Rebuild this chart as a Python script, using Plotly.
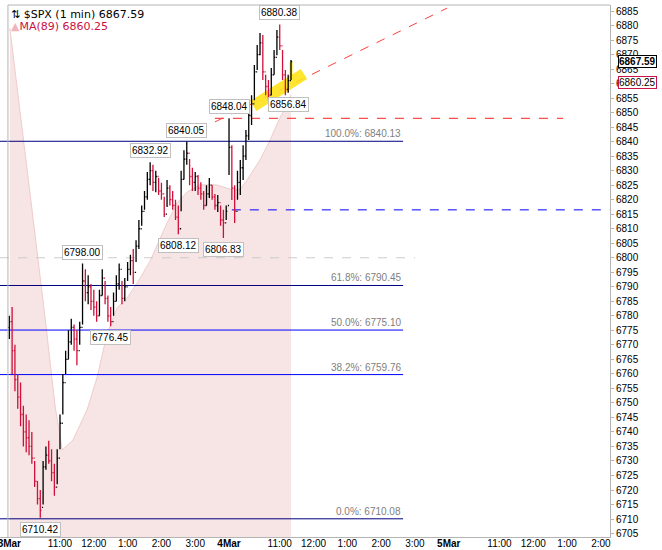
import plotly.graph_objects as go
import pandas as pd

SESSION = 6.5  # trading hours per day, x axis = session hours since 3Mar 09:30


def session_hours(day, hhmm):
    h, m = map(int, hhmm.split(':'))
    return day * SESSION + h + m / 60 - 9.5


# 5-minute OHLC bars, 3Mar full session then 4Mar 09:30-11:20
bar_days = [0] * 78 + [1] * 23
bar_clock = [t.strftime('%H:%M') for t in pd.date_range('2000-01-01 09:30', periods=78, freq='5min')] + \
            [t.strftime('%H:%M') for t in pd.date_range('2000-01-01 09:30', periods=23, freq='5min')]

opens = [6776, 6778, 6768, 6758, 6752, 6746, 6740, 6738, 6735, 6731,
         6723, 6717, 6714, 6728, 6732, 6730, 6726, 6721, 6731, 6743,
         6757, 6765, 6771, 6776, 6772, 6768, 6776, 6792, 6788, 6790,
         6785, 6783, 6780, 6787, 6793, 6786, 6780, 6778, 6785, 6791,
         6796, 6786, 6790, 6796, 6799, 6795, 6804, 6810, 6816, 6821,
         6827, 6830, 6826, 6828, 6823, 6822, 6815, 6824, 6820, 6818,
         6814, 6810, 6827, 6834, 6836, 6828, 6826, 6828, 6824, 6822,
         6818, 6822, 6825, 6821, 6818, 6819, 6813, 6812,
         6818, 6838, 6824, 6816, 6826, 6831, 6835, 6842, 6849, 6853,
         6864, 6870, 6874, 6864, 6859, 6856, 6863, 6869, 6876, 6873,
         6863, 6858, 6861]
highs = [6780, 6783, 6770, 6760, 6757, 6749, 6746, 6744, 6740, 6730,
         6723, 6720, 6730, 6735, 6737, 6734, 6729, 6734, 6746, 6760,
         6768, 6775, 6779, 6777, 6775, 6778, 6798.00, 6796, 6794, 6791,
         6789, 6785, 6789, 6796, 6792, 6787, 6783, 6788, 6794, 6798,
         6792, 6793, 6798.5, 6801, 6803, 6806, 6813, 6818, 6823, 6829.5,
         6832.92, 6832, 6830, 6827.5, 6825.8, 6821, 6826.8, 6825, 6823, 6820,
         6818, 6830, 6837, 6840.05, 6834, 6831, 6829.5, 6828.5, 6826, 6823,
         6825, 6827.5, 6825, 6822, 6821.6, 6818, 6816.5, 6818,
         6848.04, 6838.8, 6825, 6830, 6833.7, 6838.8, 6844, 6851, 6856, 6866.4,
         6873.3, 6877.4, 6876.7, 6863, 6861.2, 6865.4, 6871.6, 6878.5, 6880.38, 6871.6,
         6864.7, 6863, 6868.1]
lows = [6772, 6760, 6754, 6748, 6742, 6735, 6733, 6732, 6729, 6721,
        6715, 6710.42, 6715, 6727, 6729, 6723, 6718, 6722, 6734, 6746,
        6760, 6765, 6770, 6768, 6763, 6770, 6777, 6785, 6784, 6782,
        6780, 6778, 6780, 6787, 6784, 6778, 6776.45, 6780, 6785, 6789,
        6784, 6785, 6792, 6794, 6791, 6798.5, 6803, 6811, 6816.5, 6820,
        6825, 6823, 6822.6, 6821.6, 6820, 6814, 6817.5, 6818, 6816.5, 6813,
        6808.12, 6816, 6827, 6832, 6825, 6823, 6823, 6821.6, 6820, 6816.5,
        6818, 6820.6, 6820, 6816.5, 6815.8, 6811, 6806.83, 6813,
        6828.5, 6819.9, 6812, 6820, 6821.6, 6826.8, 6833.7, 6840.6, 6845.7, 6854.3,
        6864.7, 6869.8, 6861.2, 6856, 6854.3, 6856, 6863, 6869.8, 6871.6, 6861.2,
        6856, 6856.84, 6861.2]
closes = [6778, 6768, 6758, 6752, 6746, 6740, 6738, 6735, 6731, 6723,
          6717, 6713, 6728, 6732, 6730, 6726, 6721, 6731, 6743, 6757,
          6765, 6771, 6776, 6772, 6768, 6776, 6792, 6788, 6790, 6785,
          6783, 6780, 6787, 6793, 6786, 6780, 6778, 6785, 6791, 6796,
          6786, 6790, 6796, 6799, 6795, 6804, 6810, 6816, 6821, 6827,
          6830, 6826, 6828, 6823, 6822, 6815, 6824, 6820, 6818, 6814,
          6810, 6827, 6834, 6836, 6828, 6826, 6828, 6824, 6822, 6818,
          6822, 6825, 6821, 6818, 6819, 6813, 6812, 6816,
          6838, 6824, 6816, 6826, 6831, 6835, 6842, 6849, 6853, 6864,
          6870, 6874, 6864, 6859, 6856, 6863, 6869, 6876, 6873, 6863,
          6858, 6861, 6867.59]

# MA(89)
ma_days = [0] * 21 + [1] * 8
ma_clock = ['09:31', '09:49', '10:07', '10:19', '10:34', '10:51', '11:04', '11:23', '11:48',
            '12:06', '12:23', '12:41', '12:59', '13:17', '13:40', '14:10', '14:28', '14:46',
            '15:08', '15:38', '15:56',
            '09:37', '09:50', '10:02', '10:25', '10:43', '11:01', '11:15', '11:20']
ma_values = [6879.1, 6850.9, 6823.3, 6802.7, 6778.6, 6749.3, 6733.8, 6737.2, 6747.6,
             6758.9, 6773.4, 6782.7, 6786.1, 6791.3, 6798.9, 6812.0, 6818.9, 6822.7,
             6825.1, 6825.1, 6824.0,
             6823.3, 6823.7, 6826.8, 6833.7, 6840.6, 6848.5, 6853.3, 6856.1]

# Fibonacci retracement
fib_pct = ['100.0%', '61.8%', '50.0%', '38.2%', '0.0%']
fib_levels = [6840.13, 6790.45, 6775.10, 6759.76, 6710.08]
fib_colors = ['#000080', '#000080', '#0000ff', '#0000ff', '#000080']

# marked highs / lows (bar index)
high_marks = [26, 50, 63, 78, 96]
low_marks = [11, 36, 60, 76, 99]

last_price = 6867.59
last_ma = 6860.25

x_time = [session_hours(d, c) for d, c in zip(bar_days, bar_clock)]
ma_x = [session_hours(d, c) for d, c in zip(ma_days, ma_clock)]

x_left, x_right = -0.275, 17.77
y_low, y_high = 6703.81, 6887.07
fib_end = session_hours(1, '14:39')

fig = go.Figure()

fig.add_trace(go.Scatter(x=ma_x, y=ma_values, mode='lines', fill='tozeroy',
                         fillcolor='#f7e4e4', line=dict(color='#f0cccc', width=1),
                         hoverinfo='skip'))

for lvl, col in zip(fib_levels, fib_colors):
    fig.add_trace(go.Scatter(x=[x_left, fib_end], y=[lvl, lvl], mode='lines',
                             line=dict(color=col, width=1), hoverinfo='skip'))

# horizontal markers and trendline
fig.add_trace(go.Scatter(x=[x_left, session_hours(1, '15:00')], y=[6800, 6800], mode='lines',
                         line=dict(color='#cccccc', width=1, dash='dash'), hoverinfo='skip'))
fig.add_trace(go.Scatter(x=[session_hours(0, '15:35'), session_hours(2, '12:53')], y=[6848.04, 6848.04],
                         mode='lines', line=dict(color='#ff2020', width=1, dash='dash'), hoverinfo='skip'))
fig.add_trace(go.Scatter(x=[session_hours(1, '09:35'), x_right], y=[6816.5, 6816.5], mode='lines',
                         line=dict(color='#0000ff', width=1, dash='dash'), hoverinfo='skip'))
fig.add_trace(go.Scatter(x=[session_hours(0, '15:35'), session_hours(1, '15:57')], y=[6846.8, 6886.0],
                         mode='lines', line=dict(color='#ff4040', width=1, dash='dash'), hoverinfo='skip'))
fig.add_trace(go.Scatter(x=[session_hours(1, '10:13'), session_hours(1, '11:43')], y=[6852.3, 6863.3],
                         mode='lines', line=dict(color='#ffe31a', width=12), opacity=0.9, hoverinfo='skip'))
fig.add_trace(go.Scatter(x=[session_hours(1, '11:20'), session_hours(1, '11:20')], y=[6862.0, 6867.5],
                         mode='lines', line=dict(color='#ffe31a', width=3), hoverinfo='skip'))

fig.add_trace(go.Ohlc(x=x_time, open=opens, high=highs, low=lows, close=closes, yaxis='y2',
                      increasing=dict(line=dict(color='#000000', width=1.3)),
                      decreasing=dict(line=dict(color='#d0103a', width=1.3)),
                      tickwidth=0.4, hoverinfo='skip'))

tick_x, tick_t = [], []
for d, name in enumerate(['3Mar', '4Mar', '5Mar']):
    tick_x.append(d * SESSION)
    tick_t.append('<b>' + name + '</b>')
    for hh, lab in [('11:00', '11:00'), ('12:00', '12:00'), ('13:00', '1:00'), ('14:00', '2:00'), ('15:00', '3:00')]:
        tick_x.append(session_hours(d, hh))
        tick_t.append(lab)

font = 'Liberation Sans, Arial, sans-serif'
ann = []
for i in high_marks:
    ann.append(dict(x=x_time[i], y=highs[i], yref='y2', text='%.2f' % highs[i], showarrow=False,
                    yanchor='bottom', yshift=4, bgcolor='white', bordercolor='#c0c0c0',
                    borderwidth=1, borderpad=1, font=dict(family=font, size=10, color='black')))
for i in low_marks:
    ann.append(dict(x=x_time[i], y=lows[i], yref='y2', text='%.2f' % lows[i], showarrow=False,
                    yanchor='top', yshift=-4, bgcolor='white', bordercolor='#c0c0c0',
                    borderwidth=1, borderpad=1, font=dict(family=font, size=10, color='black')))
for p, lvl in zip(fib_pct, fib_levels):
    ann.append(dict(x=fib_end, y=lvl, yref='y2', text='%s: %.2f' % (p, lvl), showarrow=False,
                    xanchor='right', yanchor='bottom', yshift=0,
                    font=dict(family=font, size=10, color='#808080')))

ann.append(dict(xref='paper', yref='y2', x=1, y=last_price, text='<b>%.2f</b>' % last_price,
                showarrow=False, xanchor='left', xshift=8, bgcolor='white', bordercolor='black',
                borderwidth=1, borderpad=0, font=dict(family=font, size=10, color='black')))
ann.append(dict(xref='paper', yref='y2', x=1, y=last_ma, text='%.2f' % last_ma,
                showarrow=False, xanchor='left', xshift=8, bgcolor='white', bordercolor='#cc1144',
                borderwidth=1, borderpad=0, font=dict(family=font, size=10, color='black')))

ann.append(dict(xref='paper', yref='paper', x=0.015, y=1, yanchor='top', yshift=-1, xanchor='left',
                text='⇅ $SPX (1 min) %.2f' % last_price, showarrow=False,
                font=dict(family='DejaVu Sans', size=11, color='black')))
ann.append(dict(xref='paper', yref='paper', x=0.015, y=1, yanchor='top', yshift=-13, xanchor='left',
                text="<span style='color:#f2b5bd'>▲</span>MA(89) %.2f" % last_ma, showarrow=False,
                font=dict(family='DejaVu Sans', size=11, color='#cc1144')))

fig.update_layout(
    width=662, height=550, autosize=False,
    margin=dict(l=0, r=52, t=5, b=13),
    plot_bgcolor='white', paper_bgcolor='white',
    showlegend=False,
    annotations=ann,
    xaxis=dict(range=[x_left, x_right], tickmode='array', tickvals=tick_x, ticktext=tick_t,
               showgrid=False, zeroline=False, showline=True, linecolor='#b4b4b4',
               ticks='', ticklabelstandoff=-3, ticklabeloverflow='allow',
               tickfont=dict(family=font, size=10, color='black'),
               rangeslider=dict(visible=False), automargin=False),
    yaxis=dict(range=[y_low, y_high], visible=False, showgrid=False, zeroline=False),
    yaxis2=dict(range=[y_low, y_high], overlaying='y', side='right', dtick=5, tick0=6710,
                showgrid=False, zeroline=False, showline=True, linecolor='#b4b4b4',
                ticks='outside', ticklen=3, tickcolor='#b4b4b4',
                tickfont=dict(family=font, size=10, color='black'), automargin=False),
    shapes=[
        dict(type='line', xref='x', yref='paper', x0=-0.04, x1=-0.04, y0=0, y1=1,
             line=dict(color='#b4b4b4', width=1)),
        dict(type='line', xref='x', yref='paper', x0=-0.04, x1=x_right, y0=1, y1=1,
             line=dict(color='#b4b4b4', width=1)),
    ],
)

# the page's default 8px body margin would shift the chart; remove it
fig.write_html('out.html', config={'displayModeBar': False},
               post_script="document.body.style.margin='0';")
